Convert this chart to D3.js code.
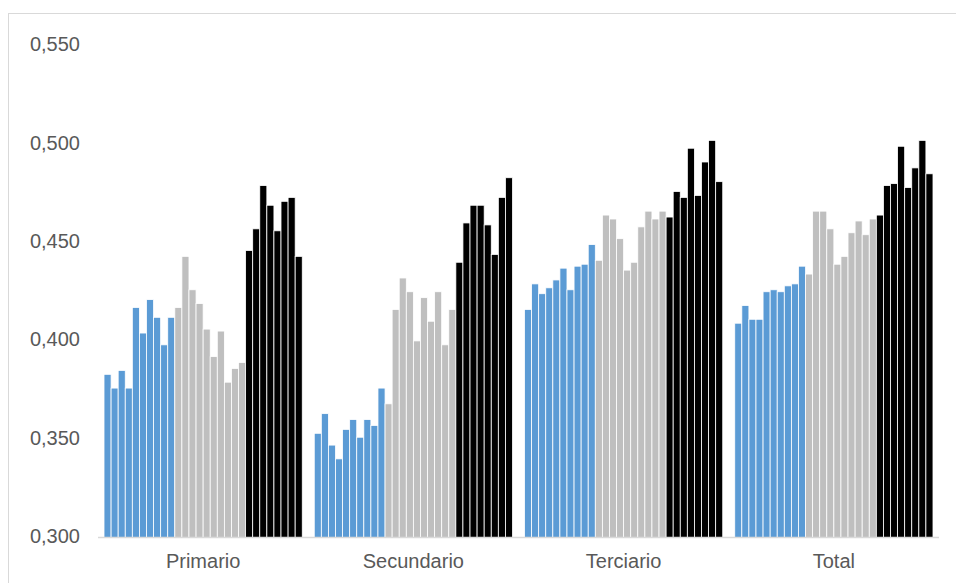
<!DOCTYPE html>
<html>
<head>
<meta charset="utf-8">
<script src="https://cdn.jsdelivr.net/npm/d3@7"></script>
<style>
  html, body { margin: 0; padding: 0; background: #fff; }
  svg { display: block; }
  text { font-family: "Liberation Sans", Arial, sans-serif; fill: #595959; }
</style>
</head>
<body>
<svg id="chart" width="956" height="583"></svg>
<script>
// ---- data ----
const categories = ["Primario", "Secundario", "Terciario", "Total"];
// 28 bars per category: 10 blue, 10 grey, 8 black
const groupSizes = [10, 10, 8];
const groupColors = ["#5b9bd5", "#bfbfbf", "#000000"];
const primario = [0.383, 0.376, 0.385, 0.376, 0.417, 0.404, 0.421, 0.412, 0.398, 0.412,
                  0.417, 0.443, 0.426, 0.419, 0.406, 0.392, 0.405, 0.379, 0.386, 0.389,
                  0.446, 0.457, 0.479, 0.469, 0.456, 0.471, 0.473, 0.443];
const secundario = [0.353, 0.363, 0.347, 0.340, 0.355, 0.360, 0.351, 0.360, 0.357, 0.376,
                    0.368, 0.416, 0.432, 0.425, 0.400, 0.422, 0.410, 0.425, 0.398, 0.416,
                    0.440, 0.460, 0.469, 0.469, 0.459, 0.444, 0.473, 0.483];
const terciario = [0.416, 0.429, 0.424, 0.427, 0.431, 0.437, 0.426, 0.438, 0.439, 0.449,
                   0.441, 0.464, 0.462, 0.452, 0.436, 0.440, 0.458, 0.466, 0.462, 0.466,
                   0.463, 0.476, 0.473, 0.498, 0.474, 0.491, 0.502, 0.481];
const total = [0.409, 0.418, 0.411, 0.411, 0.425, 0.426, 0.425, 0.428, 0.429, 0.438,
               0.434, 0.466, 0.466, 0.457, 0.439, 0.443, 0.455, 0.461, 0.454, 0.462,
               0.464, 0.479, 0.480, 0.499, 0.478, 0.488, 0.502, 0.485];
const valuesByCategory = [primario, secundario, terciario, total];
const yTicks = [0.300, 0.350, 0.400, 0.450, 0.500, 0.550];

// ---- layout ----
const svg = d3.select("#chart");
const plot = { left: 98, right: 939, top: 46, bottom: 537.5 };

// chart border
svg.append("rect")
  .attr("x", 8.5).attr("y", 13.5)
  .attr("width", 1000).attr("height", 1000)
  .attr("fill", "none").attr("stroke", "#d9d9d9").attr("stroke-width", 1);

const nBars = primario.length;
const colorOf = i => {
  let acc = 0;
  for (let g = 0; g < groupSizes.length; g++) {
    acc += groupSizes[g];
    if (i < acc) return groupColors[g];
  }
  return groupColors[groupColors.length - 1];
};

const x0 = d3.scaleBand().domain(categories)
  .range([plot.left, plot.right]).paddingInner(0.0571).paddingOuter(0.0286);
const x1 = d3.scaleBand().domain(d3.range(nBars)).range([0, x0.bandwidth()]).padding(0);
const y = d3.scaleLinear().domain([0.3, 0.55]).range([plot.bottom, plot.top]);

// bars
const groups = svg.append("g").selectAll("g")
  .data(categories.map((c, i) => ({ cat: c, vals: valuesByCategory[i] })))
  .join("g")
  .attr("transform", d => `translate(${x0(d.cat)},0)`);

groups.selectAll("rect")
  .data(d => d.vals.map((v, i) => ({ v, i })))
  .join("rect")
  .attr("x", d => x1(d.i))
  .attr("y", d => y(d.v))
  .attr("width", x1.bandwidth())
  .attr("height", d => y(0.3) - y(d.v))
  .attr("fill", d => colorOf(d.i))
  .attr("stroke", "#ffffff")
  .attr("stroke-width", 0.8);

// y axis labels
const yAxis = d3.axisLeft(y).tickValues(yTicks)
  .tickFormat(d => d3.format(".3f")(d).replace(".", ","))
  .tickSize(0).tickPadding(0);
const yg = svg.append("g").attr("transform", "translate(80,-1.5)").call(yAxis);
yg.select(".domain").remove();
yg.selectAll("text").style("font-size", "20px").attr("fill", "#595959")
  .style("font-family", "'Liberation Sans', Arial, sans-serif");

// x axis
const xAxis = d3.axisBottom(x0).tickSize(0).tickPadding(16);
const xg = svg.append("g").attr("transform", `translate(0,${plot.bottom})`).call(xAxis);
xg.select(".domain").attr("stroke", "#d9d9d9").attr("stroke-width", 1.5)
  .attr("d", `M${plot.left},0H${plot.right}`);
xg.selectAll("text").style("font-size", "20px").attr("fill", "#595959")
  .style("font-family", "'Liberation Sans', Arial, sans-serif");
</script>
</body>
</html>
